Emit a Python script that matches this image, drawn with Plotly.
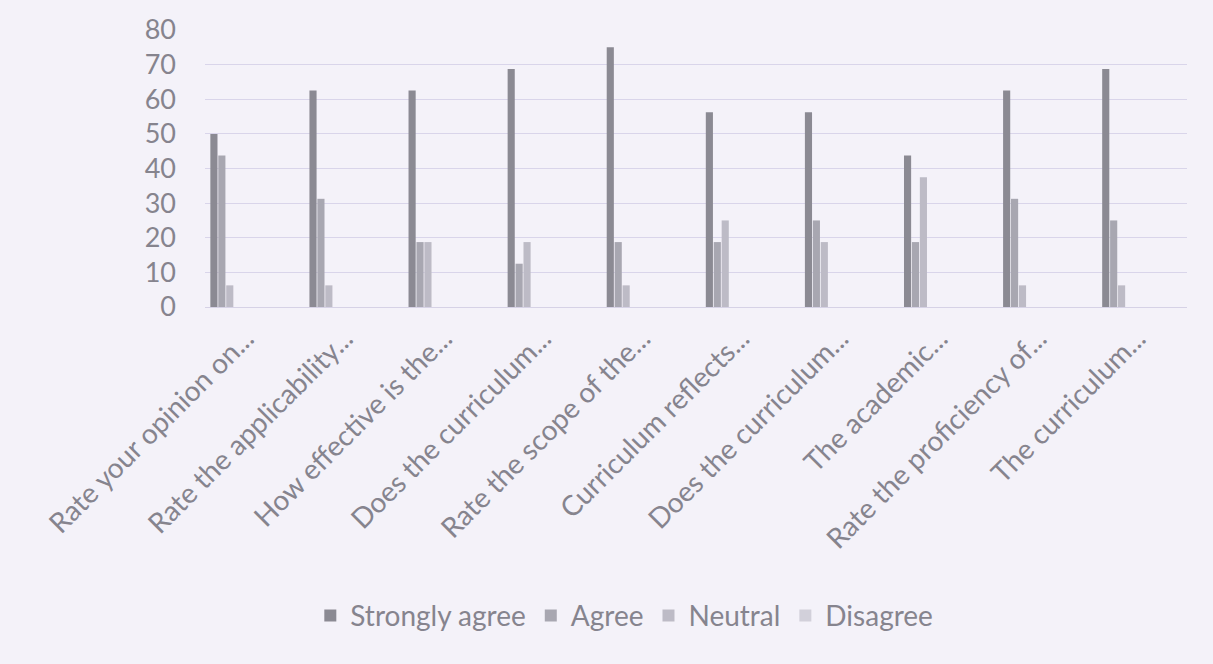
import plotly.graph_objects as go

categories = [
    "Rate your opinion on...",
    "Rate the applicability...",
    "How effective is the...",
    "Does the curriculum...",
    "Rate the scope of the...",
    "Curriculum reflects...",
    "Does the curriculum...",
    "The academic...",
    "Rate the proficiency of...",
    "The curriculum...",
]
strongly_agree = [50, 62.5, 62.5, 68.75, 75, 56.25, 56.25, 43.75, 62.5, 68.75]
agree = [43.75, 31.25, 18.75, 12.5, 18.75, 18.75, 25, 18.75, 31.25, 25]
neutral = [6.25, 6.25, 18.75, 18.75, 6.25, 25, 18.75, 37.5, 6.25, 6.25]
disagree = [0, 0, 0, 0, 0, 0, 0, 0, 0, 0]
y_ticks = [0, 10, 20, 30, 40, 50, 60, 70, 80]

series = [
    ("Strongly agree", strongly_agree, "#8b8a93"),
    ("Agree", agree, "#a8a7b1"),
    ("Neutral", neutral, "#bdbbc6"),
    ("Disagree", disagree, "#d2d0da"),
]

BG = "#f4f2f9"
TXT = "#86848e"

# index positions so duplicate labels stay distinct categories
xpos = list(range(len(categories)))

fig = go.Figure()
for name, vals, col in series:
    fig.add_trace(go.Bar(x=xpos, y=vals, name=name, marker_color=col,
                         marker_line_width=0))

fig.update_layout(
    width=1213, height=664,
    paper_bgcolor=BG, plot_bgcolor=BG,
    barmode="group", bargap=0.68, bargroupgap=0.1,
    margin=dict(l=205, r=26, t=28, b=357),
    font=dict(family="Lato, Open Sans, sans-serif", color=TXT),
    xaxis=dict(
        tickmode="array", tickvals=xpos, ticktext=categories,
        range=[-0.21, 9.7], tickangle=-45, showgrid=False,
        tickfont=dict(size=28, color=TXT), ticklabelshift=20,
        ticklabelstandoff=3,
        showline=True, linecolor="#d6d2e6", linewidth=1, zeroline=False,
    ),
    yaxis=dict(
        range=[0, 80], tickvals=y_ticks, showgrid=True,
        gridcolor="#d9d5ea", gridwidth=1, zeroline=False,
        tickfont=dict(size=27, color=TXT), ticklabelstandoff=28,
    ),
    legend=dict(
        orientation="h", x=0.427, xanchor="center", y=-1.115, yanchor="middle",
        font=dict(size=28, color=TXT), bgcolor="rgba(0,0,0,0)",
        itemwidth=30,
    ),
)

fig.write_html(
    "out.html",
    config={"displayModeBar": False},
    post_script="document.body.style.margin='0';document.body.style.background='%s';" % BG,
)
